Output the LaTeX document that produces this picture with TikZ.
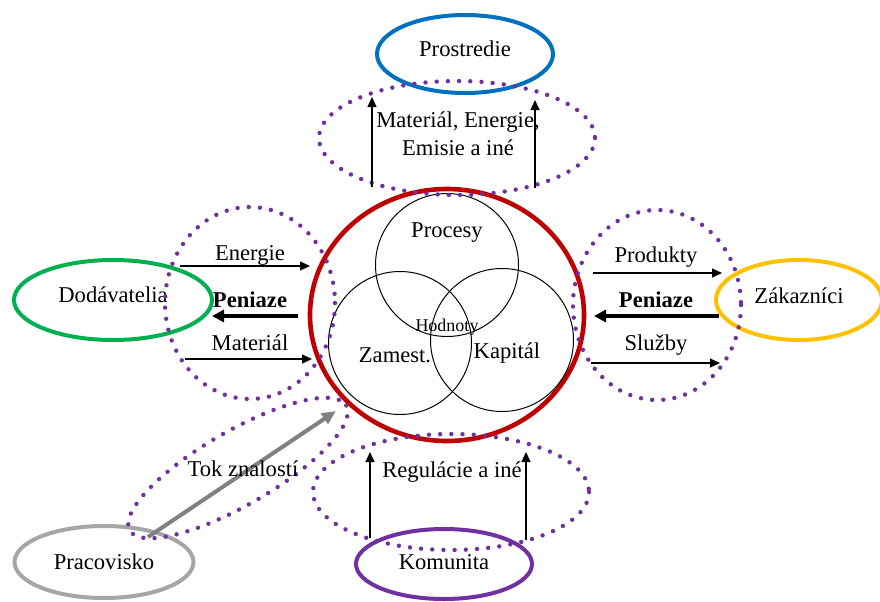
\documentclass[tikz,border=0pt]{standalone}
\usepackage{fontspec}
\setmainfont{Liberation Serif}
\usetikzlibrary{shapes.geometric,arrows.meta}

\definecolor{firmred}{HTML}{C00000}
\definecolor{envblue}{HTML}{0070C0}
\definecolor{supgreen}{HTML}{00B050}
\definecolor{custorange}{HTML}{FFC000}
\definecolor{workgray}{HTML}{A6A6A6}
\definecolor{commpurple}{HTML}{7030A0}

\begin{document}
\begin{tikzpicture}[x=0.5pt, y=-0.5pt,
		every node/.style={font=\fontsize{11.3}{14}\selectfont},
		actor/.style={ellipse, draw, line width=2pt, inner sep=0pt},
		ring/.style={circle, draw, line width=0.5pt, minimum size=71.5pt, inner sep=0pt},
		zone/.style={draw=commpurple, line width=2.2pt, line cap=round, dash pattern=on 0pt off 5.6pt},
		flow/.style={-{Triangle[length=5pt,width=4.5pt]}, line width=0.65pt},
		money/.style={-{Triangle[length=6pt,width=6pt]}, line width=2pt},
		know/.style={-{Triangle[length=7pt,width=6pt]}, line width=2pt, draw=gray}]
	\useasboundingbox (0,0) rectangle (880,601);
	
	% Firm
	\node[ellipse, draw=firmred, line width=2.3pt, minimum width=137pt, minimum height=126pt] (firma) at (447,315) {};
	\node[ring] (procesy) at (447,265) {};
	\node[ring] (zamest) at (400,343) {};
	\node[ring] (kapital) at (502,340) {};
	\node (procesyL) at (447,233) {Procesy};
	\node (zamestL) at (395,355) {Zamest.};
	\node (kapitalL) at (507,353) {Kapitál};
	\node[font=\fontsize{9}{11}\selectfont] (hodnoty) at (447,327) {Hodnoty};
	
	% Partners
	\node[actor, draw=envblue, text depth=5pt, minimum width=88pt, minimum height=39pt] (prostredie) at (465,54) {Prostredie};
	\node[actor, draw=supgreen, text depth=5pt, minimum width=99pt, minimum height=40pt] (dodavatelia) at (113,300) {Dodávatelia};
	\node[actor, draw=custorange, text depth=4pt, minimum width=83pt, minimum height=40pt] (zakaznici) at (799,300) {Zákazníci};
	\node[actor, draw=workgray, minimum width=89.5pt, minimum height=36pt] (pracovisko) at (104,562) {Pracovisko};
	\node[actor, draw=commpurple, text depth=2pt, minimum width=88pt, minimum height=35pt] (komunita) at (444,564) {Komunita};
	
	% Dotted zones
	\draw[zone] (457,138) ellipse [x radius=138, y radius=57];
	\draw[zone] (250,303) ellipse [x radius=85, y radius=96];
	\draw[zone] (657,305) ellipse [x radius=84, y radius=95];
	\draw[zone] (451,492) ellipse [x radius=138, y radius=58];
	\draw[zone, rotate around={30:(238,468)}] (238,468) ellipse [x radius=125, y radius=37];
	
	% Ends of the arrows
	\coordinate (upA1) at (372,187); \coordinate (upA2) at (372,97);
	\coordinate (upB1) at (535,188); \coordinate (upB2) at (535,100);
	\coordinate (enA) at (180,266); \coordinate (enB) at (310,266);
	\coordinate (peA) at (298,316); \coordinate (peB) at (212,316);
	\coordinate (maA) at (185,359); \coordinate (maB) at (312,359);
	\coordinate (prA) at (593,273); \coordinate (prB) at (722,273);
	\coordinate (pzA) at (719,316); \coordinate (pzB) at (594,316);
	\coordinate (slA) at (591,363); \coordinate (slB) at (720,363);
	\coordinate (reA1) at (370,538); \coordinate (reA2) at (370,452);
	\coordinate (reB1) at (526,540); \coordinate (reB2) at (526,452);
	\coordinate (tokA) at (148,537); \coordinate (tokB) at (336,411);
	
	% Arrows
	\draw[flow] (upA1) -- (upA2);
	\draw[flow] (upB1) -- (upB2);
	\draw[flow] (enA) -- (enB);
	\draw[money] (peA) -- (peB);
	\draw[flow] (maA) -- (maB);
	\draw[flow] (prA) -- (prB);
	\draw[money] (pzA) -- (pzB);
	\draw[flow] (slA) -- (slB);
	\draw[flow] (reA1) -- (reA2);
	\draw[flow] (reB1) -- (reB2);
	\draw[know] (tokA) -- (tokB); % knowledge flow
	
	% Labels
	\node[align=center] (emisie) at (458,134) {Materiál, Energie,\\Emisie a iné};
	\node (energie) at (250,255) {Energie};
	\node (peniazeL) at (250,300) {\textbf{Peniaze}};
	\node (material) at (250,343) {Materiál};
	\node (produkty) at (656,257) {Produkty};
	\node (peniazeR) at (656,300) {\textbf{Peniaze}};
	\node (sluzby) at (656,345) {Služby};
	\node (regulacie) at (452,472) {Regulácie a iné};
	\node (tok) at (243,469) {Tok znalostí};
\end{tikzpicture}
\end{document}
